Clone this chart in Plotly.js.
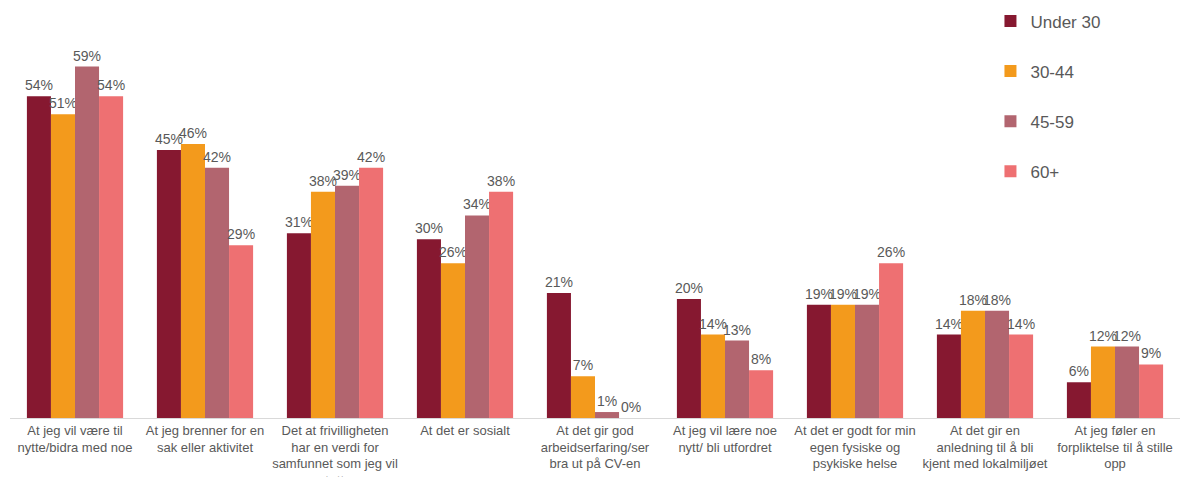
<!DOCTYPE html>
<html>
<head>
<meta charset="utf-8">
<script src="https://cdn.plot.ly/plotly-3.0.1.min.js"></script>
<style>html,body{margin:0;padding:0;background:#fff;}#chart{width:1180px;height:477px;}</style>
</head>
<body>
<div id="chart"></div>
<script>
const categories = [
  "At jeg vil være til<br>nytte/bidra med noe",
  "At jeg brenner for en<br>sak eller aktivitet",
  "Det at frivilligheten<br>har en verdi for<br>samfunnet som jeg vil<br>støtte",
  "At det er sosialt",
  "At det gir god<br>arbeidserfaring/ser<br>bra ut på CV-en",
  "At jeg vil lære noe<br>nytt/ bli utfordret",
  "At det er godt for min<br>egen fysiske og<br>psykiske helse",
  "At det gir en<br>anledning til å bli<br>kjent med lokalmiljøet",
  "At jeg føler en<br>forpliktelse til å stille<br>opp"
];
const seriesNames = ["Under 30", "30-44", "45-59", "60+"];
const under30 = [54, 45, 31, 30, 21, 20, 19, 14, 6];
const age30_44 = [51, 46, 38, 26, 7, 14, 19, 18, 12];
const age45_59 = [59, 42, 39, 34, 1, 13, 19, 18, 12];
const age60plus = [54, 29, 42, 38, 0, 8, 26, 14, 9];
const colors = ["#861830", "#F39A1C", "#B2656F", "#EE7072"];

const values = [under30, age30_44, age45_59, age60plus];
const traces = values.map((v, i) => ({
  type: "bar",
  name: seriesNames[i],
  x: categories,
  y: v,
  marker: {color: colors[i]},
  text: v.map(d => d + "%"),
  textposition: "outside",
  constraintext: "none",
  cliponaxis: false,
  textfont: {family: "Liberation Sans, Arial, sans-serif", size: 14, color: "#595959"},
  legendgroup: "g" + i,
  hoverinfo: "none"
}));

const layout = {
  width: 1180,
  height: 477,
  margin: {l: 10, r: 0, t: 10, b: 59},
  paper_bgcolor: "#ffffff",
  plot_bgcolor: "#ffffff",
  barmode: "group",
  bargap: 0.26,
  bargroupgap: 0,
  font: {family: "Liberation Sans, Arial, sans-serif", color: "#595959"},
  showlegend: true,
  legend: {
    x: 0.838, xanchor: "left", y: 1.016, yanchor: "top",
    traceorder: "grouped",
    tracegroupgap: 25,
    font: {size: 17, color: "#595959"},
    bgcolor: "rgba(0,0,0,0)"
  },
  xaxis: {
    type: "category",
    showline: true,
    linecolor: "#d9d9d9",
    linewidth: 1,
    ticks: "",
    showgrid: false,
    tickfont: {size: 13, color: "#595959"},
    automargin: false
  },
  yaxis: {
    range: [0, 68.5],
    visible: false,
    showgrid: false,
    zeroline: false
  }
};

Plotly.newPlot("chart", traces, layout, {displayModeBar: false, staticPlot: true});
</script>
</body>
</html>
